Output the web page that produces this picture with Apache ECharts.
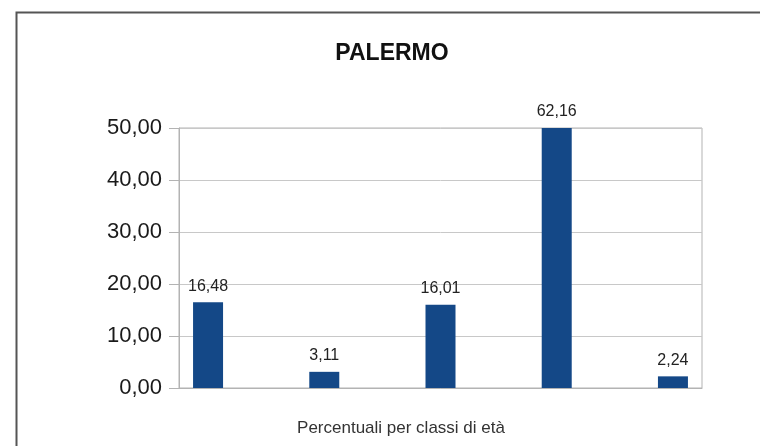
<!DOCTYPE html>
<html>
<head>
<meta charset="utf-8">
<title>PALERMO</title>
<script src="https://cdn.jsdelivr.net/npm/echarts@6/dist/echarts.min.js"></script>
<style>
  html, body { margin: 0; padding: 0; background: #fff; }
  #chart { width: 760px; height: 446px; }
</style>
</head>
<body>
<div id="chart"></div>
<script>
// classi di età (etichette non mostrate nel grafico originale)
var categories = ['1', '2', '3', '4', '5'];
// percentuali per classe
var values = [16.48, 3.11, 16.01, 62.16, 2.24];
// tacche asse y
var yTicks = [0, 10, 20, 30, 40, 50];

var fmt = function (v) {
    return Number(v).toFixed(2).replace('.', ',');
};

var chart = echarts.init(document.getElementById('chart'));

var option = {
    animation: false,
    textStyle: { fontFamily: 'Liberation Sans, Arial, sans-serif' },
    grid: {
        left: 179,
        right: 58,
        top: 128,
        bottom: 58,
        show: true,
        borderColor: '#b3b3b3',
        borderWidth: 1
    },
    // asse x numerico: una posizione per ogni classe
    xAxis: {
        type: 'value',
        min: -0.25,
        max: categories.length - 0.75,
        axisLabel: { show: false },
        axisTick: { show: false },
        splitLine: { show: false },
        axisLine: { onZero: false, lineStyle: { color: '#b3b3b3', width: 1 } }
    },
    yAxis: {
        type: 'value',
        min: yTicks[0],
        max: yTicks[yTicks.length - 1],
        interval: 10,
        axisLine: { show: true, onZero: false, lineStyle: { color: '#b3b3b3' } },
        axisTick: { show: true, length: 10, lineStyle: { color: '#b3b3b3' } },
        splitLine: { lineStyle: { color: '#c8c8c8' } },
        axisLabel: {
            fontSize: 22,
            color: '#1a1a1a',
            margin: 17,
            formatter: fmt
        }
    },
    series: [
        {
            type: 'bar',
            barWidth: 30,
            clip: true,
            itemStyle: { color: '#144887' },
            label: {
                show: true,
                position: 'top',
                distance: 8,
                fontSize: 16,
                color: '#222',
                formatter: function (p) { return fmt(p.value[1]); }
            },
            data: values.map(function (v, i) { return [i, v]; })
        }
    ],
    graphic: [
        {
            type: 'polyline',
            silent: true,
            shape: { points: [[16.5, 446], [16.5, 12.5], [760, 12.5]] },
            style: { stroke: '#555', lineWidth: 2, fill: null }
        },
        {
            type: 'text',
            x: 392,
            y: 54,
            style: {
                text: 'PALERMO',
                fontSize: 23,
                fontWeight: 'bold',
                fontFamily: 'Liberation Sans, Arial, sans-serif',
                fill: '#111',
                textAlign: 'center',
                textVerticalAlign: 'middle'
            }
        },
        {
            type: 'text',
            x: 401,
            y: 428,
            style: {
                text: 'Percentuali per classi di età',
                fontSize: 17,
                fontFamily: 'Liberation Sans, Arial, sans-serif',
                fill: '#333',
                textAlign: 'center',
                textVerticalAlign: 'middle'
            }
        }
    ]
};

chart.setOption(option);
</script>
</body>
</html>
